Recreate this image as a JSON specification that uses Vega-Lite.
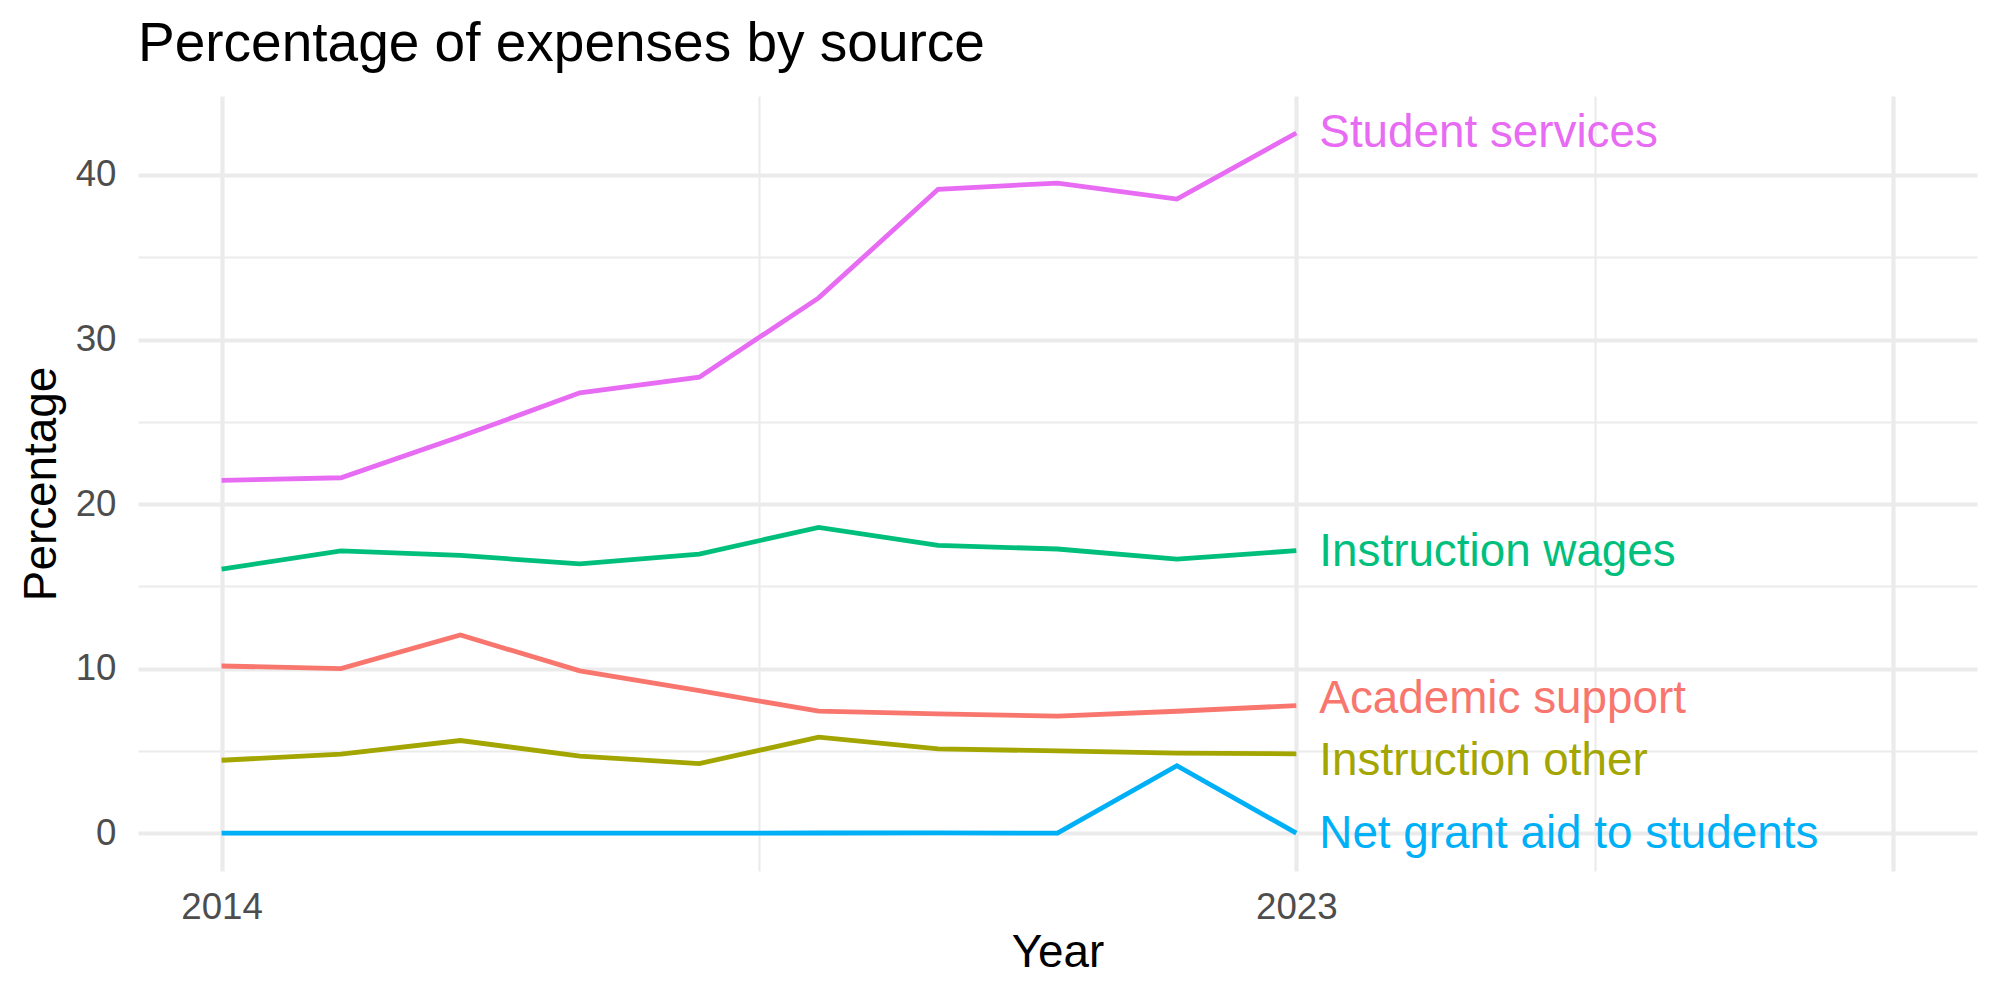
{
  "$schema": "https://vega.github.io/schema/vega-lite/v6.json",
  "autosize": "none",
  "width": 1839,
  "height": 775,
  "padding": {"left": 138, "top": 96, "right": 23, "bottom": 129},
  "background": "white",
  "config": {
    "view": {"stroke": null},
    "font": "Liberation Sans",
    "axis": {"domain": false, "ticks": false, "gridColor": "#EBEBEB", "labelFont": "Liberation Sans", "labelFontSize": 36.7, "labelColor": "#4D4D4D", "titleFont": "Liberation Sans", "titleFontSize": 45.8, "titleFontWeight": "normal", "titleColor": "#000000"}
  },
  "title": {"text": "Percentage of expenses by source", "anchor": "start", "frame": "group", "fontSize": 55, "fontWeight": "normal", "font": "Liberation Sans", "color": "#000000", "baseline": "alphabetic", "offset": 36, "dy": 56},
  "datasets": {
    "series": [
      {"year": 2014, "series": "Academic support", "value": 10.16},
      {"year": 2015, "series": "Academic support", "value": 10.0},
      {"year": 2016, "series": "Academic support", "value": 12.04},
      {"year": 2017, "series": "Academic support", "value": 9.86},
      {"year": 2018, "series": "Academic support", "value": 8.66},
      {"year": 2019, "series": "Academic support", "value": 7.41},
      {"year": 2020, "series": "Academic support", "value": 7.25},
      {"year": 2021, "series": "Academic support", "value": 7.11},
      {"year": 2022, "series": "Academic support", "value": 7.41},
      {"year": 2023, "series": "Academic support", "value": 7.75},
      {"year": 2014, "series": "Instruction other", "value": 4.43},
      {"year": 2015, "series": "Instruction other", "value": 4.8},
      {"year": 2016, "series": "Instruction other", "value": 5.63},
      {"year": 2017, "series": "Instruction other", "value": 4.68},
      {"year": 2018, "series": "Instruction other", "value": 4.23},
      {"year": 2019, "series": "Instruction other", "value": 5.83},
      {"year": 2020, "series": "Instruction other", "value": 5.12},
      {"year": 2021, "series": "Instruction other", "value": 5.0},
      {"year": 2022, "series": "Instruction other", "value": 4.86},
      {"year": 2023, "series": "Instruction other", "value": 4.82},
      {"year": 2014, "series": "Instruction wages", "value": 16.05},
      {"year": 2015, "series": "Instruction wages", "value": 17.15},
      {"year": 2016, "series": "Instruction wages", "value": 16.88},
      {"year": 2017, "series": "Instruction wages", "value": 16.36},
      {"year": 2018, "series": "Instruction wages", "value": 16.96},
      {"year": 2019, "series": "Instruction wages", "value": 18.58},
      {"year": 2020, "series": "Instruction wages", "value": 17.49},
      {"year": 2021, "series": "Instruction wages", "value": 17.27},
      {"year": 2022, "series": "Instruction wages", "value": 16.66},
      {"year": 2023, "series": "Instruction wages", "value": 17.17},
      {"year": 2014, "series": "Net grant aid to students", "value": 0},
      {"year": 2015, "series": "Net grant aid to students", "value": 0},
      {"year": 2016, "series": "Net grant aid to students", "value": 0},
      {"year": 2017, "series": "Net grant aid to students", "value": 0},
      {"year": 2018, "series": "Net grant aid to students", "value": 0},
      {"year": 2019, "series": "Net grant aid to students", "value": 0.01},
      {"year": 2020, "series": "Net grant aid to students", "value": 0.02},
      {"year": 2021, "series": "Net grant aid to students", "value": 0},
      {"year": 2022, "series": "Net grant aid to students", "value": 4.1},
      {"year": 2023, "series": "Net grant aid to students", "value": 0},
      {"year": 2014, "series": "Student services", "value": 21.44},
      {"year": 2015, "series": "Student services", "value": 21.6},
      {"year": 2016, "series": "Student services", "value": 24.1},
      {"year": 2017, "series": "Student services", "value": 26.76},
      {"year": 2018, "series": "Student services", "value": 27.71},
      {"year": 2019, "series": "Student services", "value": 32.53},
      {"year": 2020, "series": "Student services", "value": 39.13},
      {"year": 2021, "series": "Student services", "value": 39.51},
      {"year": 2022, "series": "Student services", "value": 38.54},
      {"year": 2023, "series": "Student services", "value": 42.55}
    ],
    "labels": [
      {"year": 2023, "series": "Academic support", "labelValue": 8.15},
      {"year": 2023, "series": "Instruction other", "labelValue": 4.37},
      {"year": 2023, "series": "Instruction wages", "labelValue": 17.1},
      {"year": 2023, "series": "Net grant aid to students", "labelValue": -0.06},
      {"year": 2023, "series": "Student services", "labelValue": 42.55}
    ]
  },
  "layer": [
    {
      "data": {"name": "series"},
      "mark": {"type": "line", "strokeWidth": 4.8, "clip": false},
      "encoding": {
        "x": {"field": "year", "type": "quantitative", "scale": {"domain": [2013.3, 2028.7], "nice": false, "zero": false},
          "axis": {"title": "Year", "values": [2014, 2018.5, 2023, 2025.5, 2028], "labelExpr": "(datum.value == 2014 || datum.value == 2023) ? toString(datum.value) : ''", "labelPadding": 18, "titlePadding": 5,
            "gridWidth": {"condition": {"test": "datum.value == 2018.5 || datum.value == 2025.5", "value": 2.1}, "value": 4.2}}},
        "y": {"field": "value", "type": "quantitative", "scale": {"domain": [-2.3, 44.8], "nice": false, "zero": false},
          "axis": {"title": "Percentage", "values": [0, 5, 10, 15, 20, 25, 30, 35, 40], "labelExpr": "(datum.value % 10 == 0) ? toString(datum.value) : ''", "labelPadding": 22, "titlePadding": 10,
            "gridWidth": {"condition": {"test": "datum.value % 10 != 0", "value": 2.1}, "value": 4.2}}},
        "color": {"field": "series", "type": "nominal", "legend": null,
          "scale": {"domain": ["Academic support", "Instruction other", "Instruction wages", "Net grant aid to students", "Student services"], "range": ["#F8766D", "#A3A500", "#00BF7D", "#00B0F6", "#E76BF3"]}}
      }
    },
    {
      "data": {"name": "labels"},
      "mark": {"type": "text", "align": "left", "baseline": "middle", "dx": 23, "fontSize": 45.8, "font": "Liberation Sans", "clip": false},
      "encoding": {
        "x": {"field": "year", "type": "quantitative"},
        "y": {"field": "labelValue", "type": "quantitative"},
        "text": {"field": "series"},
        "color": {"field": "series", "type": "nominal", "legend": null}
      }
    }
  ]
}
